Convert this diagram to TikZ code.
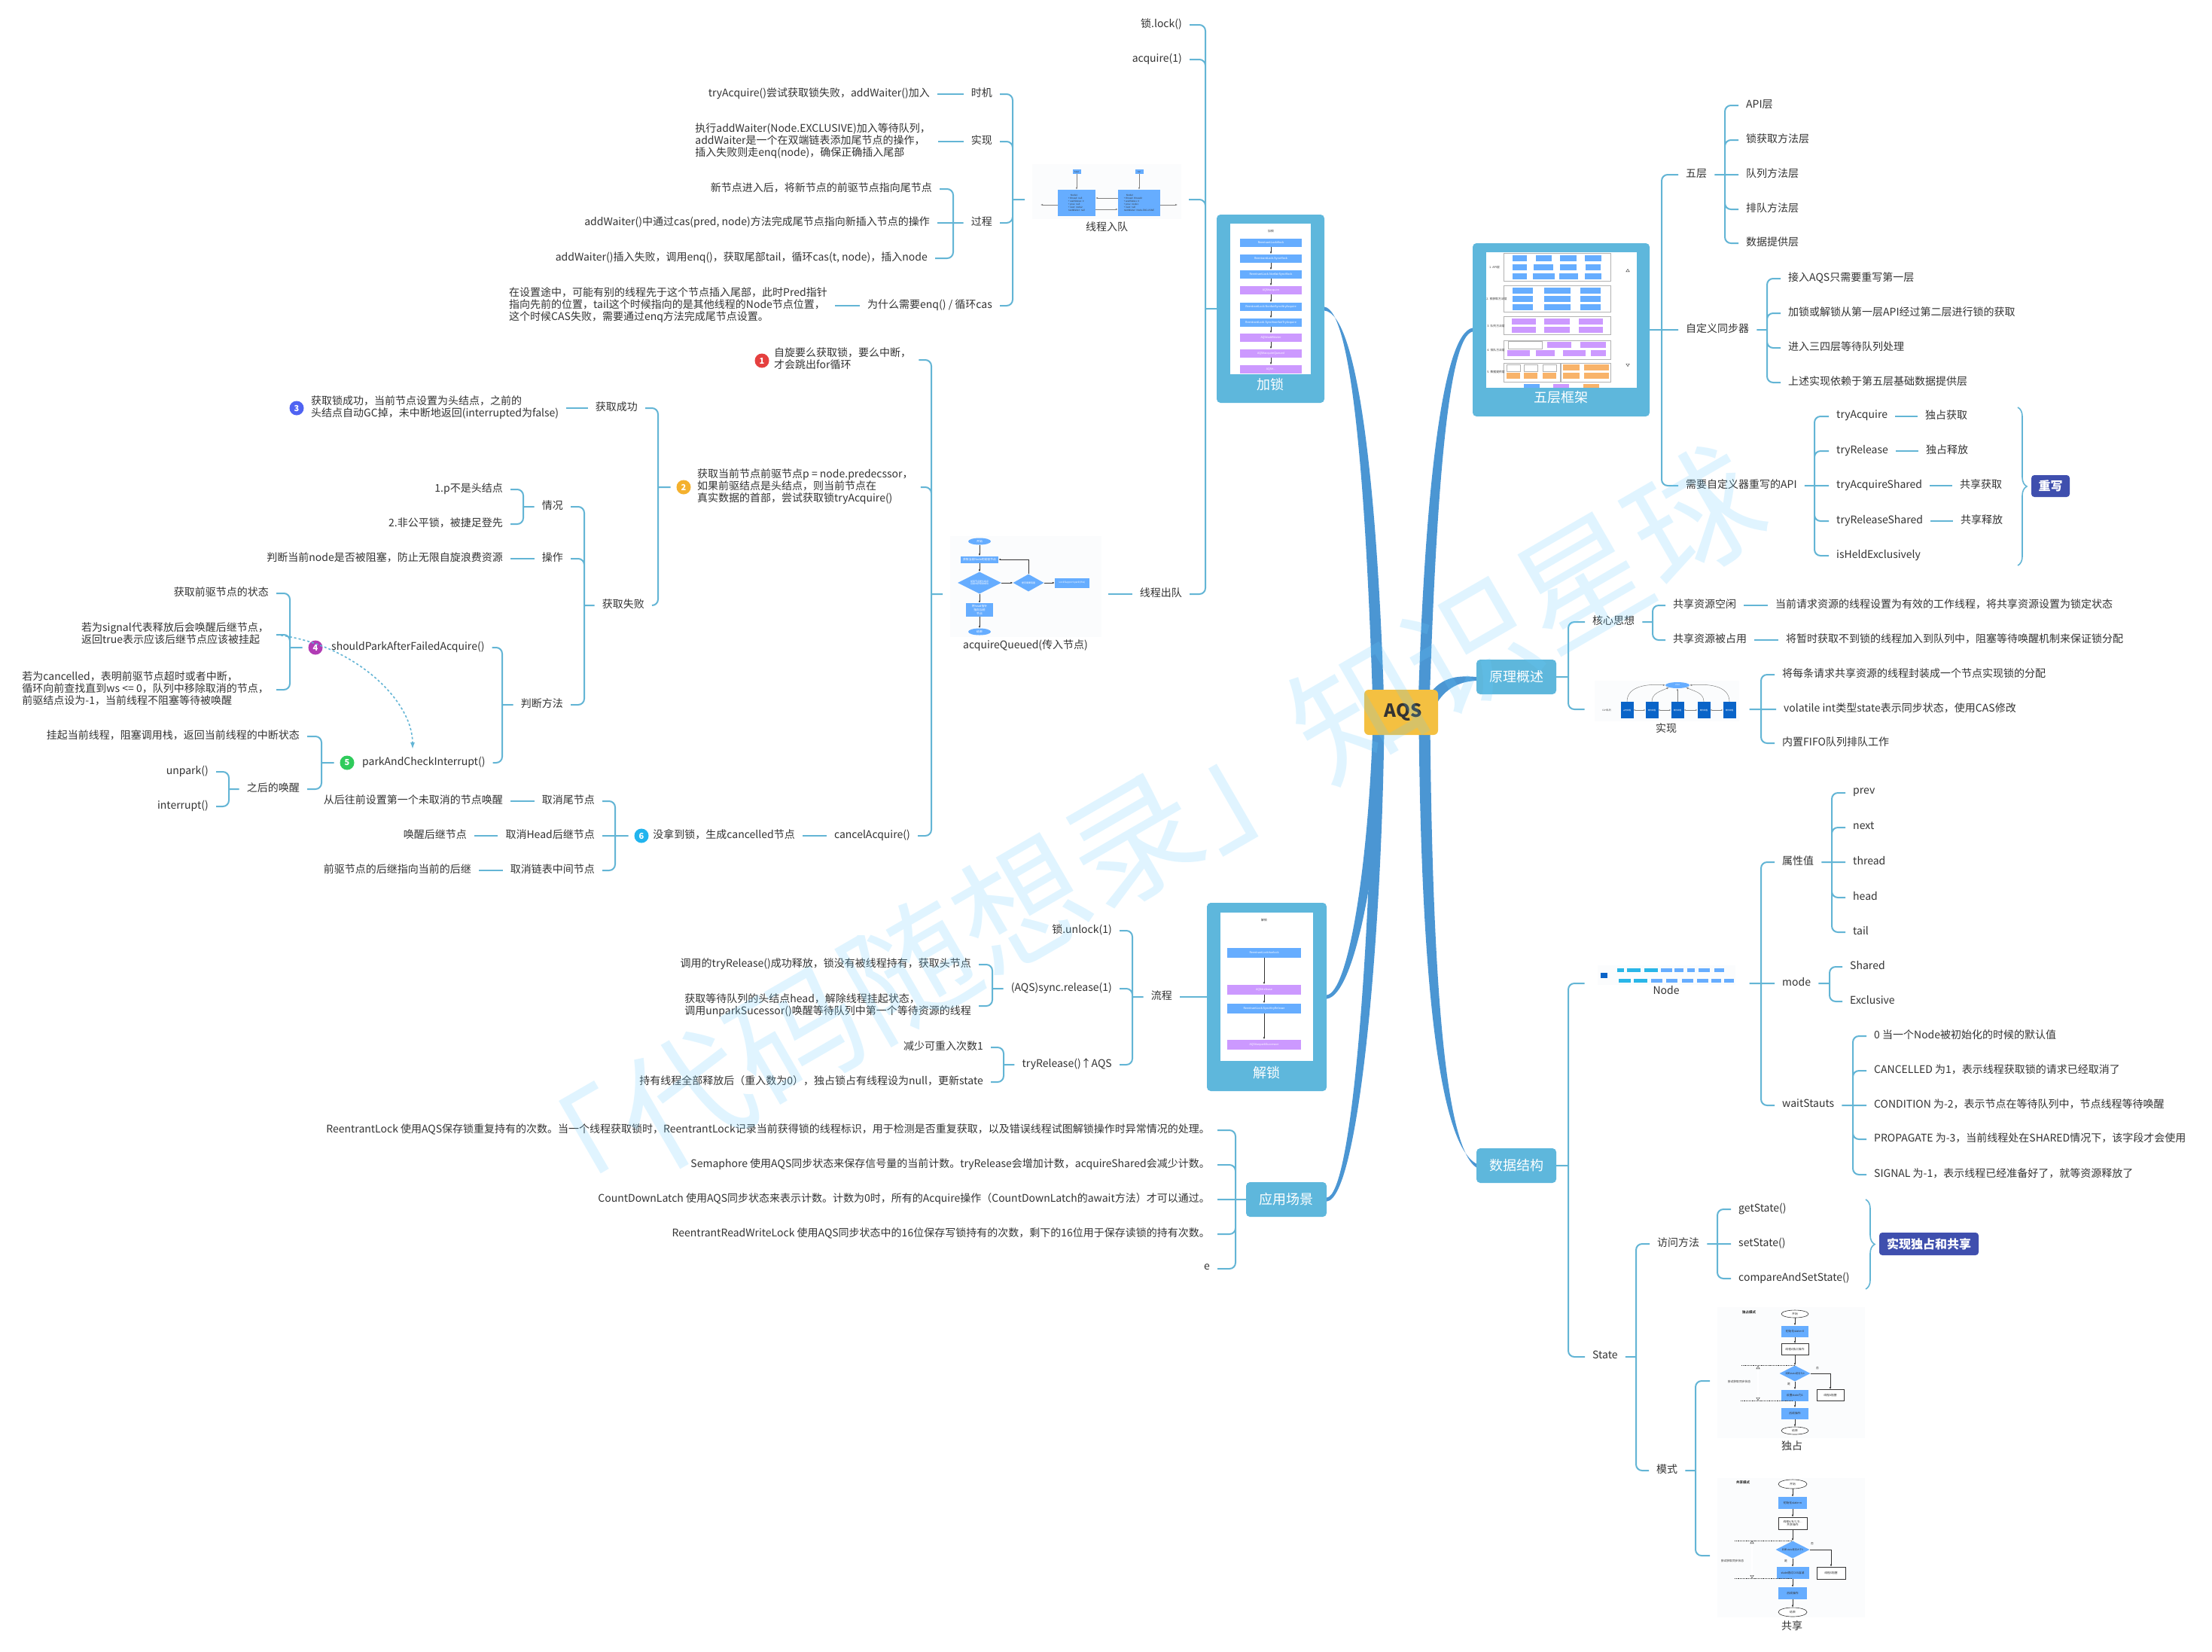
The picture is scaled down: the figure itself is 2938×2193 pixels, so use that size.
\documentclass[tikz,border=0pt]{standalone}
\usepackage{fontspec}
\setmainfont{Noto Sans CJK SC}
\usetikzlibrary{shapes.geometric,arrows.meta,calc,decorations.pathreplacing}
\definecolor{ink}{HTML}{333333}
\definecolor{wirec}{HTML}{63B5D5}
\definecolor{cardc}{HTML}{5EB7DC}
\definecolor{trunkc}{HTML}{4B96D3}
\definecolor{rootc}{HTML}{F4C041}
\definecolor{tagc}{HTML}{3F4FAE}
\definecolor{blueb}{HTML}{66ADFF}
\definecolor{purpb}{HTML}{CC99FF}
\definecolor{orgb}{HTML}{F8B36A}
\definecolor{clhb}{HTML}{0A64C8}
\definecolor{tealb}{HTML}{29B6E8}
\definecolor{faint}{HTML}{FBFCFD}
\definecolor{wmark}{HTML}{66CCFF}
\definecolor{markA}{HTML}{E5403F}
\definecolor{markB}{HTML}{F4B12E}
\definecolor{markC}{HTML}{4F63F2}
\definecolor{markD}{HTML}{B13BB5}
\definecolor{markE}{HTML}{2FCB5B}
\definecolor{markF}{HTML}{22B4EE}
\tikzset{
	lab/.style={inner xsep=10pt,inner ysep=1pt,text=ink,align=left,text depth=5pt,font=\fontsize{14}{16}\selectfont},
	lR/.style={lab,anchor=east},
	lL/.style={lab,anchor=west},
	wire/.style={draw=wirec,line width=2pt,rounded corners=8pt},
	bracew/.style={draw=wirec,line width=1.6pt,decorate,decoration={brace,amplitude=12pt,aspect=.5}},
	card/.style={rectangle,fill=cardc,rounded corners=5pt,inner sep=0pt},
	cardtxt/.style={text=white,inner sep=0pt,font=\fontsize{18}{20}\selectfont},
	tag/.style={rectangle,fill=tagc,rounded corners=4pt,text=white,inner sep=0pt,font=\fontsize{16}{18}\selectfont\bfseries},
	badge/.style={circle,minimum size=19pt,inner sep=0pt,outer sep=8pt,text=white,font=\fontsize{11}{11}\selectfont\bfseries},
	slot/.style={rectangle,inner sep=0pt,outer sep=10pt},
	mini/.style={inner sep=0pt,text=ink,font=\fontsize{3.8}{4.4}\selectfont},
	flowb/.style={rectangle,fill=blueb,minimum width=82pt,minimum height=11pt,inner sep=0pt,text=white,font=\fontsize{3.7}{4.4}\selectfont},
	flowp/.style={flowb,fill=purpb},
	farrow/.style={-{Latex[length=3pt,width=2.4pt]},line width=.5pt,draw=ink},
	stepb/.style={rectangle,fill=blueb,minimum width=36pt,minimum height=15pt,inner sep=0pt,text=ink,align=center,font=\fontsize{3.8}{4.6}\selectfont},
	stepw/.style={stepb,fill=white,draw=ink,line width=.6pt},
	stepe/.style={stepw,ellipse,minimum height=10pt},
	stepd/.style={stepb,diamond,shape aspect=2,minimum width=41pt,minimum height=21pt},
	hollow/.style={{Triangle[open,length=4pt,width=5pt]}-{Triangle[open,length=4pt,width=5pt]},double,double distance=1.2pt,line width=.4pt,draw=ink},
	dashl/.style={dashed,dash pattern=on 1.2pt off 1pt,line width=.5pt,draw=ink}
}
\newcommand{\trunkline}[4]{\fill[trunkc] ($#1+(-7.5,0)$) .. controls ($#2+(-7.5,0)$) and ($#3+(-4,-2)$) .. ($#4+(0,-2.5)$) -- ($#4+(0,2.5)$) .. controls ($#3+(4,2)$) and ($#2+(7.5,0)$) .. ($#1+(7.5,0)$) -- cycle;}
\newcommand{\cellbox}[5]{\fill[#5] (#1-#3/2,#2-#4/2) rectangle (#1+#3/2,#2+#4/2);}
\begin{document}
\begin{tikzpicture}[x=1pt,y=-1pt]
	\useasboundingbox (0,0) rectangle (2938,2193);
	\fill[white] (0,0) rectangle (2938,2193);

	\node[card,minimum width=143pt,minimum height=250pt] (jiaSuo) at (1687.5,410) {};
	\node[card,minimum width=235pt,minimum height=230pt] (wuCeng) at (2073.5,438) {};
	\node[card,minimum width=106pt,minimum height=46pt] (yuanLi) at (2014,899) {};
	\node[card,minimum width=106pt,minimum height=46pt] (shuJu) at (2014,1548) {};
	\node[card,minimum width=159pt,minimum height=250pt] (jieSuo) at (1682.5,1324) {};
	\node[card,minimum width=107pt,minimum height=46pt] (yingYong) at (1708.5,1593) {};

	\trunkline{(1831,940)}{(1822,650)}{(1800,415)}{(jiaSuo.east)}
	\trunkline{(1891,940)}{(1900,650)}{(1920,445)}{(wuCeng.west)}
	\fill[trunkc] (1893,930) .. controls (1912,898) and (1935,897) .. (yuanLi.west) -- ($(yuanLi.west)+(0,5)$) .. controls (1938,905) and (1915,915) .. (1903,945) -- cycle;
	\trunkline{(1892,960)}{(1895,1300)}{(1915,1520)}{(shuJu.west)}
	\trunkline{(1831,960)}{(1825,1150)}{(1795,1320)}{(jieSuo.east)}
	\trunkline{(1831,960)}{(1828,1250)}{(1800,1590)}{(yingYong.east)}

	\node[rectangle,fill=rootc,rounded corners=6pt,minimum width=98pt,minimum height=60pt,inner sep=0pt,text=ink,font=\fontsize{24}{26}\selectfont\bfseries] (root) at (1861,946) {\hspace*{5pt}AQS};

	% jia suo card
	\fill[white] (1634,297) rectangle (1741,497);
	\node[mini] (jsTitle) at (1688,307) {加锁};
	\node[flowb] (jsA) at (1688,322) {ReentrantLock\#lock};
	\node[flowb] (jsB) at (1688,343) {ReentrantLock.Sync\#lock};
	\node[flowb] (jsC) at (1688,364) {ReentrantLock.NonfairSync\#lock};
	\node[flowp] (jsD) at (1688,385) {AQS\#acquire};
	\node[flowb] (jsE) at (1688,407) {ReentrantLock.NonfairSync\#tryAcquire};
	\node[flowb] (jsF) at (1688,428) {ReentrantLock.Sync\#nonfairTryAcquire};
	\node[flowp] (jsG) at (1688,448) {AQS\#addWaiter};
	\node[flowp] (jsH) at (1688,469) {AQS\#acquireQueued};
	\node[flowp] (jsI) at (1688,490) {AQS\#...};
	\draw[farrow] (jsA) -- (jsB);
	\draw[farrow] (jsB) -- (jsC);
	\draw[farrow] (jsC) -- (jsD);
	\draw[farrow] (jsD) -- (jsE);
	\draw[farrow] (jsE) -- (jsF);
	\draw[farrow] (jsF) -- (jsG);
	\draw[farrow] (jsG) -- (jsH);
	\draw[farrow] (jsH) -- (jsI);
	\node[cardtxt] (jsText) at (1687,511) {加锁};

	% jie suo card
	\fill[white] (1621,1212) rectangle (1744,1409);
	\node[mini] (usTitle) at (1679,1222) {解锁};
	\node[flowb,minimum width=98pt,minimum height=13pt] (usA) at (1679,1265) {ReentrantLock\#unlock};
	\node[flowp,minimum width=98pt,minimum height=13pt] (usB) at (1679,1314) {AQS\#release};
	\node[flowb,minimum width=98pt,minimum height=13pt] (usC) at (1679,1339) {ReentrantLock.Sync\#tryRelease};
	\node[flowp,minimum width=98pt,minimum height=13pt] (usD) at (1679,1387) {AQS\#unparkSuccessor};
	\draw[farrow] (usA) -- (usB);
	\draw[farrow] (usB) -- (usC);
	\draw[farrow] (usC) -- (usD);
	\node[cardtxt] (usText) at (1682,1425) {解锁};

	% five layer card
	\fill[white] (1974,335) rectangle (2174,515);
	\draw[gray!60,line width=.6pt] (1997,336) rectangle (2139,373);
	\draw[gray!60,line width=.6pt] (1997,379) rectangle (2139,414);
	\draw[gray!60,line width=.6pt] (1997,420) rectangle (2139,444);
	\draw[gray!60,line width=.6pt] (1997,452) rectangle (2139,477);
	\draw[gray!60,line width=.6pt] (1997,482) rectangle (2072,507);
	\draw[gray!60,line width=.6pt] (2073,482) rectangle (2139,507);
	\cellbox{2018}{343}{19}{8}{blueb} \cellbox{2050}{343}{21}{8}{blueb} \cellbox{2083}{343}{22}{8}{blueb} \cellbox{2116}{343}{22}{8}{blueb}
	\cellbox{2018}{355}{19}{8}{blueb} \cellbox{2050}{355}{26}{8}{blueb} \cellbox{2083}{355}{22}{8}{blueb} \cellbox{2116}{355}{20}{8}{blueb}
	\cellbox{2018}{367}{19}{8}{blueb} \cellbox{2050}{367}{29}{8}{blueb} \cellbox{2083}{367}{25}{8}{blueb} \cellbox{2116}{367}{22}{8}{blueb}
	\cellbox{2022}{386}{27}{8}{blueb} \cellbox{2068}{386}{35}{8}{blueb} \cellbox{2112}{386}{27}{8}{blueb}
	\cellbox{2022}{397}{27}{8}{blueb} \cellbox{2068}{397}{35}{8}{blueb} \cellbox{2112}{397}{27}{8}{blueb}
	\cellbox{2022}{408}{27}{8}{blueb} \cellbox{2068}{408}{35}{8}{blueb} \cellbox{2112}{408}{27}{8}{blueb}
	\cellbox{2024}{427}{32}{8}{purpb} \cellbox{2068}{427}{34}{8}{purpb} \cellbox{2113}{427}{32}{8}{purpb}
	\cellbox{2024}{438}{32}{8}{purpb} \cellbox{2068}{438}{34}{8}{purpb} \cellbox{2113}{438}{32}{8}{purpb}
	\draw[gray!60,line width=.4pt] (2003,453) rectangle (2048,463);
	\cellbox{2071}{458}{32}{8}{purpb} \cellbox{2116}{458}{34}{8}{purpb}
	\cellbox{2017}{469}{30}{8}{purpb} \cellbox{2052}{469}{25}{8}{purpb} \cellbox{2091}{469}{30}{8}{purpb} \cellbox{2123}{469}{20}{8}{purpb}
	\draw[gray!60,line width=.4pt] (2001,484) rectangle (2019,493);
	\draw[gray!60,line width=.4pt] (2024,484) rectangle (2042,493);
	\draw[gray!60,line width=.4pt] (2049,484) rectangle (2067,493);
	\cellbox{2010}{499}{18}{8}{orgb} \cellbox{2033}{499}{18}{8}{orgb} \cellbox{2058}{499}{18}{8}{orgb}
	\cellbox{2087}{488}{22}{8}{orgb} \cellbox{2120}{488}{33}{8}{orgb} \cellbox{2087}{499}{22}{8}{orgb} \cellbox{2120}{499}{33}{8}{orgb}
	\cellbox{2034}{512.5}{21}{5}{blueb} \cellbox{2073}{512.5}{21}{5}{purpb} \cellbox{2113}{512.5}{21}{5}{orgb}
	\node[mini] (fiveA) at (1985,355) {1. API层};
	\node[mini] (fiveB) at (1988,397) {2. 锁获取方法层};
	\node[mini] (fiveC) at (1987,433) {3. 队列方法层};
	\node[mini] (fiveD) at (1987,465) {4. 排队方法层};
	\node[mini] (fiveE) at (1987,494) {5. 数据提供层};
	\draw[hollow] (2162,357) -- (2162,487);
	\node[cardtxt] (fiveText) at (2073,528) {五层框架};

	\node[cardtxt] (yuanLiText) at (2014,899) {原理概述};
	\node[cardtxt] (shuJuText) at (2014,1548) {数据结构};
	\node[cardtxt] (yingYongText) at (1708,1593) {应用场景};

	% enqueue
	\node[lR] (lockCall) at (1580,33) {锁.lock()};
	\node[lR] (acqCall) at (1580,79) {acquire(1)};
	\node[slot,minimum width=198pt,minimum height=94pt] (ruDui) at (1470,265) {};
	\fill[faint] (1371,218) rectangle (1569,291);
	\node[rectangle,fill=blueb,minimum width=11pt,minimum height=6pt,inner sep=0pt,text=ink,font=\fontsize{2.6}{3}\selectfont] (headN) at (1430,228) {head};
	\node[rectangle,fill=blueb,minimum width=11pt,minimum height=6pt,inner sep=0pt,text=ink,font=\fontsize{2.6}{3}\selectfont] (tailN) at (1513,228) {tail};
	\node[rectangle,fill=blueb,minimum width=50pt,minimum height=35pt,inner sep=0pt,text=ink,align=left,font=\fontsize{3}{4}\selectfont] (nodeA) at (1430,269.5) {\quad Node1\\+ thread: null\\+ waitStatus: 0\\+ prev: null\\+ next: node2\\nextWaiter: null};
	\node[rectangle,fill=blueb,minimum width=56pt,minimum height=35pt,inner sep=0pt,text=ink,align=left,font=\fontsize{3}{4}\selectfont] (nodeB) at (1513,269.5) {\quad Node2\\+ thread: thread2\\+ waitStatus: 0\\+ prev: node1\\+ next: null\\nextWaiter: Node.EXCLUSIVE};
	\coordinate (nilA) at (1382,272);
	\coordinate (nilB) at (1564,272);
	\draw[farrow,gray] (headN) -- (nodeA);
	\draw[farrow,gray] (tailN) -- (nodeB);
	\draw[farrow,gray] (nodeA.west |- nilA) -- (nilA);
	\draw[farrow,gray] (nodeB.east |- nilB) -- (nilB);
	\draw[farrow,gray] (nodeB.west |- 0,263) -- (nodeA.east |- 0,263);
	\draw[farrow,gray] (nodeA.east |- 0,278) -- (nodeB.west |- 0,278);
	\node[lab] (ruDuiText) at (1470,303) {线程入队};

	\node[lR] (chuDui) at (1580,789) {线程出队};
	\node[slot,minimum width=200pt,minimum height=154pt] (aqImg) at (1362,789) {};
	\fill[faint] (1262,712) rectangle (1463,846);
	\node[stepb,ellipse,minimum width=30pt,minimum height=9pt,text=white] (aqA) at (1301,719) {开始};
	\node[stepb,minimum width=50pt,minimum height=9pt,text=white] (aqB) at (1301,743) {获取当前Node的前驱节点};
	\node[stepd,minimum width=58pt,minimum height=29pt,text=white,font=\fontsize{3}{3.6}\selectfont] (aqC) at (1301,774) {前驱节点是头结点\\且尝试获取锁成功};
	\node[stepd,minimum width=41pt,minimum height=23pt,text=white,font=\fontsize{3}{3.6}\selectfont] (aqD) at (1366,774) {是否需要阻塞};
	\node[stepb,minimum width=46pt,minimum height=13pt,text=white,font=\fontsize{3.2}{3.6}\selectfont] (aqE) at (1424,774) {LockSupport.park(this)};
	\node[stepb,minimum width=36pt,minimum height=18pt,text=white] (aqF) at (1301,810) {将head指针\\指向当前\\节点};
	\node[stepb,ellipse,minimum width=30pt,minimum height=9pt,text=white] (aqG) at (1301,839) {结束};
	\draw[farrow] (aqA) -- (aqB);
	\draw[farrow] (aqB) -- (aqC);
	\draw[farrow] (aqC) -- (aqD);
	\draw[farrow] (aqD) -- (aqE);
	\draw[farrow] (aqC) -- (aqF);
	\draw[farrow] (aqF) -- (aqG);
	\draw[farrow] (aqD.north) |- (aqB.east);
	\node[lab] (aqText) at (1362,858) {acquireQueued(传入节点)};

	\coordinate (hubLock) at (1601,410);
	\draw[wire] (lockCall.east) -| (hubLock) (acqCall.east) -| (hubLock) (ruDui.east) -| (hubLock) (chuDui.east) -| (hubLock) (hubLock) -- (jiaSuo.west);
	\draw[wire] (chuDui.west) -- (aqImg.east);

	\node[lR] (shiJi) at (1328,125) {时机};
	\node[lR] (shiXian) at (1328,188) {实现};
	\node[lR] (guoCheng) at (1328,296) {过程};
	\node[lR] (whyEnq) at (1328,406) {为什么需要enq() / 循环cas};
	\coordinate (hubEnq) at (1345,265);
	\draw[wire] (shiJi.east) -| (hubEnq) (shiXian.east) -| (hubEnq) (guoCheng.east) -| (hubEnq) (whyEnq.east) -| (hubEnq) (hubEnq) -- (ruDui.west);
	\node[lR] (shiJiT) at (1245,125) {tryAcquire()尝试获取锁失败，addWaiter()加入};
	\draw[wire] (shiJiT.east) -- (shiJi.west);
	\node[lR] (shiXianT) at (1246,188) {执行addWaiter(Node.EXCLUSIVE)加入等待队列，\\addWaiter是一个在双端链表添加尾节点的操作，\\插入失败则走enq(node)，确保正确插入尾部};
	\draw[wire] (shiXianT.east) -- (shiXian.west);
	\node[lR] (guoA) at (1248,251) {新节点进入后，将新节点的前驱节点指向尾节点};
	\node[lR] (guoB) at (1245,296) {addWaiter()中通过cas(pred, node)方法完成尾节点指向新插入节点的操作};
	\node[lR] (guoC) at (1242,343) {addWaiter()插入失败，调用enq()，获取尾部tail，循环cas(t, node)，插入node};
	\coordinate (hubGuo) at (1266,296);
	\draw[wire] (guoA.east) -| (hubGuo) (guoB.east) -- (hubGuo) (guoC.east) -| (hubGuo) (hubGuo) -- (guoCheng.west);
	\node[lR] (whyT) at (1109,406) {在设置途中，可能有别的线程先于这个节点插入尾部，此时Pred指针\\指向先前的位置，tail这个时候指向的是其他线程的Node节点位置，\\这个时候CAS失败，需要通过enq方法完成尾节点设置。};
	\draw[wire] (whyT.east) -- (whyEnq.west);

	% dequeue
	\node[badge,fill=markA] (mark1) at (1012,479) {1};
	\node[lL] (ziXuan) at (1018,478) {自旋要么获取锁，要么中断，\\才会跳出for循环};
	\node[badge,fill=markB] (mark2) at (908,647) {2};
	\node[lL] (qianQu) at (916,647) {获取当前节点前驱节点p = node.predecssor，\\如果前驱结点是头结点，则当前节点在\\真实数据的首部，尝试获取锁tryAcquire()};
	\node[lR] (cancelN) at (1219,1110) {cancelAcquire()};
	\coordinate (hubQue) at (1237,789);
	\draw[wire] (ziXuan.east) -| (hubQue) (qianQu.east) -| (hubQue) (cancelN.east) -| (hubQue) (hubQue) -- (aqImg.west);

	\node[lR] (chengGong) at (857,542) {获取成功};
	\node[lR] (shiBai) at (866,804) {获取失败};
	\coordinate (hubTwo) at (874,647);
	\draw[wire] (chengGong.east) -| (hubTwo) (shiBai.east) -| (hubTwo) (hubTwo) -- (mark2.west);
	\node[badge,fill=markC] (mark3) at (394,542) {3};
	\node[lL] (chengGongT) at (403,542) {获取锁成功，当前节点设置为头结点，之前的\\头结点自动GC掉，未中断地返回(interrupted为false)};
	\draw[wire] (chengGongT.east) -- (chengGong.west);

	\node[lR] (qingKuang) at (758,673) {情况};
	\node[lR] (caoZuo) at (758,742) {操作};
	\node[lR] (panDuan) at (758,936) {判断方法};
	\coordinate (hubFail) at (776,804);
	\draw[wire] (qingKuang.east) -| (hubFail) (caoZuo.east) -| (hubFail) (panDuan.east) -| (hubFail) (hubFail) -- (shiBai.west);
	\node[lR] (notHead) at (678,650) {1.p不是头结点};
	\node[lR] (notFair) at (678,696) {2.非公平锁，被捷足登先};
	\coordinate (hubQing) at (695,673);
	\draw[wire] (notHead.east) -| (hubQing) (notFair.east) -| (hubQing) (hubQing) -- (qingKuang.west);
	\node[lR] (caoZuoT) at (678,742) {判断当前node是否被阻塞，防止无限自旋浪费资源};
	\draw[wire] (caoZuoT.east) -- (caoZuo.west);

	\node[lL] (shouldN) at (430,860) {shouldParkAfterFailedAcquire()};
	\node[lL] (parkN) at (471,1013) {parkAndCheckInterrupt()};
	\coordinate (hubPan) at (667,936);
	\draw[wire] (shouldN.east) -| (hubPan) (parkN.east) -| (hubPan) (hubPan) -- (panDuan.west);
	\node[badge,fill=markD] (mark4) at (419,860) {4};
	\node[lR] (preState) at (367,788) {获取前驱节点的状态};
	\node[lR] (isSignal) at (367,843) {若为signal代表释放后会唤醒后继节点，\\返回true表示应该后继节点应该被挂起};
	\node[lR] (isCancel) at (367,916) {若为cancelled，表明前驱节点超时或者中断，\\循环向前查找直到ws <= 0，队列中移除取消的节点，\\前驱结点设为-1，当前线程不阻塞等待被唤醒};
	\coordinate (hubFour) at (385,860);
	\draw[wire] (preState.east) -| (hubFour) (isSignal.east) -| (hubFour) (isCancel.east) -| (hubFour) (hubFour) -- (mark4.west);
	\node[badge,fill=markE] (mark5) at (461,1013) {5};
	\node[lR] (guaQi) at (408,978) {挂起当前线程，阻塞调用栈，返回当前线程的中断状态};
	\node[lR] (zhiHou) at (408,1048) {之后的唤醒};
	\coordinate (hubFive) at (427,1013);
	\draw[wire] (guaQi.east) -| (hubFive) (zhiHou.east) -| (hubFive) (hubFive) -- (mark5.west);
	\node[lR] (unparkN) at (287,1025) {unpark()};
	\node[lR] (interN) at (287,1071) {interrupt()};
	\coordinate (hubWake) at (304,1048);
	\draw[wire] (unparkN.east) -| (hubWake) (interN.east) -| (hubWake) (hubWake) -- (zhiHou.west);
	\coordinate (dashTip) at (548,995);
	\draw[draw=wirec,line width=1.6pt,dashed,-{Latex[length=9pt,width=6pt]}] (isSignal.east) .. controls (470,855) and (548,930) .. (dashTip);

	\node[lR] (noLock) at (1066,1110) {没拿到锁，生成cancelled节点};
	\node[badge,fill=markF] (mark6) at (852,1110) {6};
	\draw[wire] (noLock.east) -- (cancelN.west);
	\node[lR] (quWei) at (800,1064) {取消尾节点};
	\node[lR] (quHead) at (800,1110) {取消Head后继节点};
	\node[lR] (quZhong) at (800,1156) {取消链表中间节点};
	\coordinate (hubSix) at (817,1110);
	\draw[wire] (quWei.east) -| (hubSix) (quHead.east) -- (hubSix) (quZhong.east) -| (hubSix) (hubSix) -- (mark6.west);
	\node[lR] (quWeiT) at (678,1064) {从后往前设置第一个未取消的节点唤醒};
	\node[lR] (quHeadT) at (630,1110) {唤醒后继节点};
	\node[lR] (quZhongT) at (636,1156) {前驱节点的后继指向当前的后继};
	\draw[wire] (quWeiT.east) -- (quWei.west);
	\draw[wire] (quHeadT.east) -- (quHead.west);
	\draw[wire] (quZhongT.east) -- (quZhong.west);

	% unlock
	\node[lR] (liuCheng) at (1567,1324) {流程};
	\draw[wire] (liuCheng.east) -- (jieSuo.west);
	\node[lR] (unlockN) at (1487,1236) {锁.unlock(1)};
	\node[lR] (syncRel) at (1487,1313) {(AQS)sync.release(1)};
	\node[lR] (tryRel) at (1487,1414) {tryRelease()↑AQS};
	\coordinate (hubFlow) at (1504,1324);
	\draw[wire] (unlockN.east) -| (hubFlow) (syncRel.east) -| (hubFlow) (tryRel.east) -| (hubFlow) (hubFlow) -- (liuCheng.west);
	\node[lR] (relOk) at (1300,1281) {调用的tryRelease()成功释放，锁没有被线程持有，获取头节点};
	\node[lR] (relHead) at (1300,1336) {获取等待队列的头结点head，解除线程挂起状态，\\调用unparkSucessor()唤醒等待队列中第一个等待资源的线程};
	\coordinate (hubSync) at (1318,1313);
	\draw[wire] (relOk.east) -| (hubSync) (relHead.east) -| (hubSync) (hubSync) -- (syncRel.west);
	\node[lR] (relOne) at (1316,1391) {减少可重入次数1};
	\node[lR] (relAll) at (1316,1437) {持有线程全部释放后（重入数为0），独占锁占有线程设为null，更新state};
	\coordinate (hubRel) at (1333,1414);
	\draw[wire] (relOne.east) -| (hubRel) (relAll.east) -| (hubRel) (hubRel) -- (tryRel.west);

	% scenes
	\node[lR] (sceneA) at (1617,1501) {ReentrantLock 使用AQS保存锁重复持有的次数。当一个线程获取锁时，ReentrantLock记录当前获得锁的线程标识，用于检测是否重复获取，以及错误线程试图解锁操作时异常情况的处理。};
	\node[lR] (sceneB) at (1617,1547) {Semaphore 使用AQS同步状态来保存信号量的当前计数。tryRelease会增加计数，acquireShared会减少计数。};
	\node[lR] (sceneC) at (1617,1593) {CountDownLatch 使用AQS同步状态来表示计数。计数为0时，所有的Acquire操作（CountDownLatch的await方法）才可以通过。};
	\node[lR] (sceneD) at (1617,1639) {ReentrantReadWriteLock 使用AQS同步状态中的16位保存写锁持有的次数，剩下的16位用于保存读锁的持有次数。};
	\node[lR] (sceneE) at (1617,1685) {e};
	\coordinate (hubApp) at (1641,1593);
	\draw[wire] (sceneA.east) -| (hubApp) (sceneB.east) -| (hubApp) (sceneC.east) -- (hubApp) (sceneD.east) -| (hubApp) (sceneE.east) -| (hubApp) (hubApp) -- (yingYong.west);

	% five layers
	\node[lL] (wuNode) at (2229,232) {五层};
	\node[lL] (ziDing) at (2229,438) {自定义同步器};
	\node[lL] (apiNode) at (2229,645) {需要自定义器重写的API};
	\coordinate (hubFrame) at (2207,438);
	\draw[wire] (wuNode.west) -| (hubFrame) (ziDing.west) -- (hubFrame) (apiNode.west) -| (hubFrame) (hubFrame) -- (wuCeng.east);
	\node[lL] (layA) at (2309,140) {API层};
	\node[lL] (layB) at (2309,186) {锁获取方法层};
	\node[lL] (layC) at (2309,232) {队列方法层};
	\node[lL] (layD) at (2309,278) {排队方法层};
	\node[lL] (layE) at (2309,323) {数据提供层};
	\coordinate (hubWu) at (2291,232);
	\draw[wire] (layA.west) -| (hubWu) (layB.west) -| (hubWu) (layC.west) -- (hubWu) (layD.west) -| (hubWu) (layE.west) -| (hubWu) (hubWu) -- (wuNode.east);
	\node[lL] (ziA) at (2365,370) {接入AQS只需要重写第一层};
	\node[lL] (ziB) at (2365,416) {加锁或解锁从第一层API经过第二层进行锁的获取};
	\node[lL] (ziC) at (2365,462) {进入三四层等待队列处理};
	\node[lL] (ziD) at (2365,508) {上述实现依赖于第五层基础数据提供层};
	\coordinate (hubZi) at (2347,438);
	\draw[wire] (ziA.west) -| (hubZi) (ziB.west) -| (hubZi) (ziC.west) -| (hubZi) (ziD.west) -| (hubZi) (hubZi) -- (ziDing.east);
	\node[lL] (apiA) at (2429,553) {tryAcquire};
	\node[lL] (apiB) at (2429,599) {tryRelease};
	\node[lL] (apiC) at (2429,645) {tryAcquireShared};
	\node[lL] (apiD) at (2429,692) {tryReleaseShared};
	\node[lL] (apiE) at (2429,738) {isHeldExclusively};
	\coordinate (hubApi) at (2410,645);
	\draw[wire] (apiA.west) -| (hubApi) (apiB.west) -| (hubApi) (apiC.west) -- (hubApi) (apiD.west) -| (hubApi) (apiE.west) -| (hubApi) (hubApi) -- (apiNode.east);
	\node[lL] (duGet) at (2547,553) {独占获取};
	\node[lL] (duRel) at (2548,599) {独占释放};
	\node[lL] (gxGet) at (2593,645) {共享获取};
	\node[lL] (gxRel) at (2594,692) {共享释放};
	\draw[wire] (apiA.east) -- (duGet.west);
	\draw[wire] (apiB.east) -- (duRel.west);
	\draw[wire] (apiC.east) -- (gxGet.west);
	\draw[wire] (apiD.east) -- (gxRel.west);
	\coordinate (braceTop) at (2680,541);
	\coordinate (braceBot) at (2680,751);
	\draw[bracew] (braceTop) -- (braceBot);
	\node[tag,minimum width=51pt,minimum height=29pt] (chongXie) at (2723.5,645.5) {重写};

	% principle
	\node[lL] (heXin) at (2105,826) {核心思想};
	\node[slot,minimum width=199pt,minimum height=76pt] (shiXianImg) at (2214,942) {};
	\coordinate (hubYuan) at (2083,899);
	\draw[wire] (heXin.west) -| (hubYuan) (shiXianImg.west) -| (hubYuan) (hubYuan) -- (yuanLi.east);
	\node[lL] (gxKong) at (2212,804) {共享资源空闲};
	\node[lL] (gxZhan) at (2212,850) {共享资源被占用};
	\coordinate (hubHe) at (2195,826);
	\draw[wire] (gxKong.west) -| (hubHe) (gxZhan.west) -| (hubHe) (hubHe) -- (heXin.east);
	\node[lL] (gxKongT) at (2348,804) {当前请求资源的线程设置为有效的工作线程，将共享资源设置为锁定状态};
	\node[lL] (gxZhanT) at (2362,850) {将暂时获取不到锁的线程加入到队列中，阻塞等待唤醒机制来保证锁分配};
	\draw[wire] (gxKong.east) -- (gxKongT.west);
	\draw[wire] (gxZhan.east) -- (gxZhanT.west);

	\fill[faint] (2118,904) rectangle (2310,958);
	\node[mini,font=\fontsize{3}{3}\selectfont] (clhText) at (2134,943) {CLH队列};
	\node[rectangle,fill=clhb,minimum width=17pt,minimum height=22pt,inner sep=0pt,text=white,font=\fontsize{2.6}{3}\selectfont] (clhA) at (2161,943) {占用线程};
	\node[rectangle,fill=clhb,minimum width=17pt,minimum height=22pt,inner sep=0pt,text=white,font=\fontsize{2.6}{3}\selectfont] (clhB) at (2194,943) {等待线程};
	\node[rectangle,fill=clhb,minimum width=17pt,minimum height=22pt,inner sep=0pt,text=white,font=\fontsize{2.6}{3}\selectfont] (clhC) at (2228,943) {等待线程};
	\node[rectangle,fill=clhb,minimum width=17pt,minimum height=22pt,inner sep=0pt,text=white,font=\fontsize{2.6}{3}\selectfont] (clhD) at (2263,943) {等待线程};
	\node[rectangle,fill=clhb,minimum width=17pt,minimum height=22pt,inner sep=0pt,text=white,font=\fontsize{2.6}{3}\selectfont] (clhE) at (2297,943) {等待线程};
	\node[ellipse,fill=blueb,minimum width=32pt,minimum height=8pt,inner sep=0pt,text=white,font=\fontsize{2.6}{3}\selectfont] (clhS) at (2228,910) {state};
	\draw[farrow,gray] (clhA.north) to[out=90,in=175] (clhS.west);
	\draw[farrow,gray] (clhB.north) to[out=90,in=205] (clhS.south west);
	\draw[farrow,gray] (clhC.north) -- (clhS.south);
	\draw[farrow,gray] (clhD.north) to[out=90,in=-25] (clhS.south east);
	\draw[farrow,gray] (clhE.north) to[out=90,in=5] (clhS.east);
	\draw[farrow,gray,{Latex[length=2pt,width=2pt]}-{Latex[length=2pt,width=2pt]}] (clhA.east) -- (clhB.west);
	\draw[farrow,gray,{Latex[length=2pt,width=2pt]}-{Latex[length=2pt,width=2pt]}] (clhB.east) -- (clhC.west);
	\draw[farrow,gray,{Latex[length=2pt,width=2pt]}-{Latex[length=2pt,width=2pt]}] (clhC.east) -- (clhD.west);
	\draw[farrow,gray,{Latex[length=2pt,width=2pt]}-{Latex[length=2pt,width=2pt]}] (clhD.east) -- (clhE.west);
	\node[lab] (shiXianText) at (2213,969) {实现};
	\node[lL] (shiA) at (2357,896) {将每条请求共享资源的线程封装成一个节点实现锁的分配};
	\node[lL] (shiB) at (2359,942) {volatile int类型state表示同步状态，使用CAS修改};
	\node[lL] (shiC) at (2357,987) {内置FIFO队列排队工作};
	\coordinate (hubShi) at (2339,942);
	\draw[wire] (shiA.west) -| (hubShi) (shiB.west) -- (hubShi) (shiC.west) -| (hubShi) (hubShi) -- (shiXianImg.east);

	% data structure
	\node[slot,minimum width=199pt,minimum height=40pt] (nodeImg) at (2214,1306) {};
	\node[lL] (stateN) at (2105,1802) {State};
	\coordinate (hubData) at (2083,1548);
	\draw[wire] (nodeImg.west) -| (hubData) (stateN.west) -| (hubData) (hubData) -- (shuJu.east);
	\fill[faint] (2122,1282) rectangle (2305,1308);
	\cellbox{2130}{1295}{9}{7}{clhb}
	\cellbox{2152}{1288}{9}{5}{tealb} \cellbox{2170}{1288}{18}{5}{tealb} \cellbox{2193}{1288}{18}{5}{tealb} \cellbox{2213}{1288}{15}{5}{blueb} \cellbox{2230}{1288}{12}{5}{blueb} \cellbox{2246}{1288}{10}{5}{blueb} \cellbox{2263}{1288}{15}{5}{blueb} \cellbox{2283}{1288}{13}{5}{blueb}
	\cellbox{2158}{1302}{16}{5}{tealb} \cellbox{2179}{1302}{18}{5}{tealb} \cellbox{2200}{1302}{15}{5}{blueb} \cellbox{2220}{1302}{15}{5}{blueb} \cellbox{2241}{1302}{15}{5}{blueb} \cellbox{2261}{1302}{15}{5}{blueb} \cellbox{2279}{1302}{13}{5}{blueb} \cellbox{2296}{1302}{13}{5}{blueb}
	\node[lab] (nodeText) at (2213,1317) {Node};

	\node[lL] (shuXing) at (2357,1145) {属性值};
	\node[lL] (modeN) at (2357,1306) {mode};
	\node[lL] (waitN) at (2357,1468) {waitStauts};
	\coordinate (hubNode) at (2339,1306);
	\draw[wire] (shuXing.west) -| (hubNode) (modeN.west) -- (hubNode) (waitN.west) -| (hubNode) (hubNode) -- (nodeImg.east);
	\node[lL] (attA) at (2451,1053) {prev};
	\node[lL] (attB) at (2451,1099) {next};
	\node[lL] (attC) at (2451,1145) {thread};
	\node[lL] (attD) at (2451,1192) {head};
	\node[lL] (attE) at (2451,1238) {tail};
	\coordinate (hubAtt) at (2433,1145);
	\draw[wire] (attA.west) -| (hubAtt) (attB.west) -| (hubAtt) (attC.west) -- (hubAtt) (attD.west) -| (hubAtt) (attE.west) -| (hubAtt) (hubAtt) -- (shuXing.east);
	\node[lL] (modeA) at (2447,1284) {Shared};
	\node[lL] (modeB) at (2447,1330) {Exclusive};
	\coordinate (hubMode) at (2430,1306);
	\draw[wire] (modeA.west) -| (hubMode) (modeB.west) -| (hubMode) (hubMode) -- (modeN.east);
	\node[lL] (waitA) at (2479,1376) {0 当一个Node被初始化的时候的默认值};
	\node[lL] (waitB) at (2479,1422) {CANCELLED 为1，表示线程获取锁的请求已经取消了};
	\node[lL] (waitC) at (2479,1468) {CONDITION 为-2，表示节点在等待队列中，节点线程等待唤醒};
	\node[lL] (waitD) at (2479,1513) {PROPAGATE 为-3，当前线程处在SHARED情况下，该字段才会使用};
	\node[lL] (waitE) at (2479,1560) {SIGNAL 为-1，表示线程已经准备好了，就等资源释放了};
	\coordinate (hubWait) at (2461,1468);
	\draw[wire] (waitA.west) -| (hubWait) (waitB.west) -| (hubWait) (waitC.west) -- (hubWait) (waitD.west) -| (hubWait) (waitE.west) -| (hubWait) (hubWait) -- (waitN.east);

	% state
	\node[lL] (fangWen) at (2191,1652) {访问方法};
	\node[lL] (moShi) at (2190,1953) {模式};
	\coordinate (hubState) at (2173,1802);
	\draw[wire] (fangWen.west) -| (hubState) (moShi.west) -| (hubState) (hubState) -- (stateN.east);
	\node[lL] (getS) at (2299,1606) {getState()};
	\node[lL] (setS) at (2299,1652) {setState()};
	\node[lL] (casS) at (2299,1698) {compareAndSetState()};
	\coordinate (hubFang) at (2281,1652);
	\draw[wire] (getS.west) -| (hubFang) (setS.west) -- (hubFang) (casS.west) -| (hubFang) (hubFang) -- (fangWen.east);
	\coordinate (braceUp) at (2478,1593);
	\coordinate (braceDn) at (2478,1712);
	\draw[bracew] (braceUp) -- (braceDn);
	\node[tag,minimum width=132pt,minimum height=30pt] (shiXianDu) at (2562,1652) {实现独占和共享};

	\node[slot,minimum width=196pt,minimum height=200pt] (duImg) at (2379,1834) {};
	\node[slot,minimum width=196pt,minimum height=200pt] (gxImg) at (2379,2066) {};
	\coordinate (hubMo) at (2252,1953);
	\draw[wire] (duImg.west) -| (hubMo) (gxImg.west) -| (hubMo) (hubMo) -- (moShi.east);

	% exclusive flow
	\fill[faint] (2281,1736) rectangle (2477,1910);
	\node[mini,font=\fontsize{4.5}{5}\selectfont\bfseries] (duTitle) at (2323,1743) {独占模式};
	\node[stepe] (duA) at (2384,1745) {开始};
	\node[stepb] (duB) at (2384,1768) {初始化state=0};
	\node[stepw] (duC) at (2384,1792) {线程A独占操作};
	\node[stepd,font=\fontsize{3.2}{3.8}\selectfont] (duD) at (2384,1824) {判断state是否为0};
	\node[stepb] (duE) at (2384,1853) {设置state为1};
	\node[stepb] (duF) at (2384,1877) {后续操作};
	\node[stepe] (duG) at (2384,1900) {结束};
	\node[stepw] (duH) at (2431,1853) {线程A阻塞};
	\draw[farrow] (duA) -- (duB);
	\draw[farrow] (duB) -- (duC);
	\draw[farrow] (duC) -- (duD);
	\draw[farrow] (duD) -- (duE);
	\draw[farrow] (duE) -- (duF);
	\draw[farrow] (duF) -- (duG);
	\draw[farrow] (duD.east) -| (duH.north);
	\node[mini] (duNo) at (2414,1817) {否};
	\node[mini] (duYes) at (2376,1838) {是};
	\coordinate (duTopL) at (2313,1814);
	\coordinate (duBotL) at (2312,1860);
	\draw[dashl] (duD.north -| duTopL) -- (duD.north);
	\draw[dashl] (duBotL) -- (2382,1860);
	\draw[hollow] (2335,1814) -- (2335,1860);
	\node[mini] (duTry) at (2310,1835) {尝试获取同步状态};
	\node[lab] (duText) at (2380,1922) {独占};

	% shared flow
	\fill[faint] (2281,1963) rectangle (2477,2148);
	\node[mini,font=\fontsize{4.5}{5}\selectfont\bfseries] (gxTitle) at (2315,1969) {共享模式};
	\node[stepe,minimum width=38pt,minimum height=12pt] (gxA) at (2381,1971) {开始};
	\node[stepb,minimum width=38pt,minimum height=16pt] (gxB) at (2381,1996) {初始化state=n};
	\node[stepw,minimum width=38pt,minimum height=16pt] (gxC) at (2381,2023) {线程A/B/C/D...\\共享操作};
	\node[stepd,minimum width=45pt,minimum height=23pt,font=\fontsize{3.2}{3.8}\selectfont] (gxD) at (2381,2058) {判断state是否大于0};
	\node[stepb,minimum width=43pt,minimum height=16pt] (gxE) at (2381,2089) {state通过CAS自减};
	\node[stepb,minimum width=38pt,minimum height=16pt] (gxF) at (2381,2116) {后续操作};
	\node[stepe,minimum width=38pt,minimum height=12pt] (gxG) at (2381,2141) {结束};
	\node[stepw,minimum width=38pt,minimum height=16pt] (gxH) at (2432,2089) {线程X阻塞};
	\draw[farrow] (gxA) -- (gxB);
	\draw[farrow] (gxB) -- (gxC);
	\draw[farrow] (gxC) -- (gxD);
	\draw[farrow] (gxD) -- (gxE);
	\draw[farrow] (gxE) -- (gxF);
	\draw[farrow] (gxF) -- (gxG);
	\draw[farrow] (gxD.east) -| (gxH.north);
	\node[mini] (gxNo) at (2407,2050) {否};
	\node[mini] (gxYes) at (2372,2073) {是};
	\coordinate (gxTopL) at (2304,2046);
	\coordinate (gxBotL) at (2304,2096);
	\draw[dashl] (gxD.north -| gxTopL) -- (gxD.north);
	\draw[dashl] (gxBotL) -- (2381,2096);
	\draw[hollow] (2327,2046) -- (2327,2096);
	\node[mini] (gxTry) at (2301,2073) {尝试获取同步状态};
	\node[lab] (gxText) at (2380,2161) {共享};

	\node[rotate=30,text=wmark,text opacity=.2,inner sep=0pt,font=\fontsize{172}{172}\selectfont] (waterMark) at (1505,1115) {「代码随想录」知识星球};
\end{tikzpicture}
\end{document}
